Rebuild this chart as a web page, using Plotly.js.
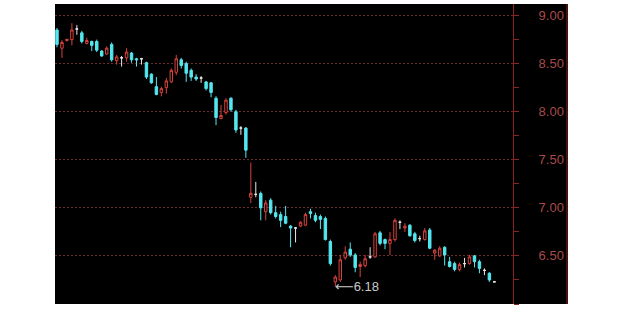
<!DOCTYPE html>
<html>
<head>
<meta charset="utf-8">
<script src="https://cdn.plot.ly/plotly-3.0.1.min.js"></script>
<style>
  html, body { margin: 0; padding: 0; background: #fff; }
  #chart { width: 627px; height: 313px; }
</style>
</head>
<body>
<div id="chart"></div>
<script>
// Daily OHLC prices, one entry per trading session
const openPx  = [8.85,8.66,8.74,8.75,8.86,8.82,8.71,8.73,8.73,8.63,8.60,8.70,8.53,8.56,8.56,8.61,8.55,8.55,8.51,8.39,
                 8.26,8.20,8.25,8.31,8.41,8.54,8.50,8.43,8.36,8.35,8.31,8.30,8.14,7.93,7.99,8.14,8.00,7.83,7.83,7.11,
                 7.14,7.15,6.96,7.08,6.95,6.93,6.91,6.81,6.79,6.81,6.82,6.96,6.92,6.91,6.89,6.65,6.23,6.25,6.48,6.57,
                 6.51,6.39,6.40,6.49,6.49,6.74,6.67,6.63,6.67,6.85,6.79,6.82,6.73,6.68,6.67,6.77,6.53,6.50,6.59,6.44,
                 6.42,6.36,6.42,6.42,6.50,6.44,6.35,6.32,6.23];
const highPx  = [8.87,8.745,8.76,8.92,8.90,8.84,8.77,8.74,8.75,8.64,8.68,8.72,8.59,8.58,8.66,8.62,8.56,8.56,8.52,8.40,
                 8.36,8.26,8.35,8.45,8.59,8.56,8.52,8.45,8.39,8.37,8.32,8.31,8.16,8.07,8.14,8.15,8.02,7.85,7.84,7.47,
                 7.27,7.17,7.08,7.10,7.02,6.96,7.02,6.82,6.80,6.86,6.95,6.99,6.95,6.93,6.91,6.67,6.30,6.51,6.60,6.64,
                 6.53,6.44,6.51,6.59,6.75,6.76,6.68,6.75,6.89,6.87,6.84,6.83,6.75,6.71,6.79,6.79,6.57,6.60,6.60,6.49,
                 6.44,6.43,6.48,6.51,6.51,6.46,6.37,6.33,6.24];
const lowPx   = [8.67,8.56,8.73,8.69,8.80,8.71,8.70,8.63,8.62,8.57,8.59,8.52,8.49,8.47,8.52,8.51,8.47,8.49,8.34,8.29,
                 8.17,8.16,8.19,8.30,8.38,8.45,8.31,8.32,8.32,8.30,8.22,8.15,7.86,7.92,7.97,8.00,7.78,7.76,7.52,7.05,
                 7.11,6.87,6.87,6.93,6.89,6.80,6.83,6.59,6.64,6.80,6.81,6.89,6.85,6.78,6.66,6.40,6.18,6.23,6.46,6.49,
                 6.33,6.28,6.38,6.47,6.48,6.61,6.57,6.51,6.65,6.78,6.75,6.70,6.64,6.65,6.66,6.57,6.46,6.49,6.40,6.38,
                 6.34,6.34,6.38,6.41,6.38,6.32,6.30,6.23,6.23];
const closePx = [8.70,8.72,8.75,8.85,8.86,8.73,8.74,8.69,8.64,8.58,8.66,8.54,8.57,8.56,8.62,8.54,8.54,8.55,8.36,8.30,
                 8.18,8.24,8.32,8.43,8.55,8.48,8.40,8.36,8.34,8.35,8.24,8.20,7.94,7.96,8.12,8.02,7.81,7.83,7.60,7.15,
                 7.14,7.00,7.05,6.95,6.91,6.87,6.84,6.79,6.79,6.85,6.93,6.94,6.87,6.88,6.67,6.42,6.28,6.46,6.54,6.51,
                 6.38,6.41,6.47,6.49,6.73,6.63,6.63,6.67,6.87,6.85,6.81,6.71,6.66,6.68,6.76,6.58,6.56,6.58,6.51,6.39,
                 6.36,6.41,6.42,6.49,6.44,6.37,6.35,6.25,6.23];

// Price scale labels on the right
const priceTicks  = [6.5, 7.0, 7.5, 8.0, 8.5, 9.0];
const priceLabels = ['6.50', '7.00', '7.50', '8.00', '8.50', '9.00'];

// Session low callout
const lowText = '6.18';
const lowValue = 6.18;

const UP = '#d8423c', DOWN = '#55e6ee', FLAT = '#e8e8e8', AXIS = '#8e2222';

const session = openPx.map((_, i) => i);
function pick(test) {
  const idx = session.filter(test);
  return {
    x: idx,
    open: idx.map(i => openPx[i]),
    high: idx.map(i => highPx[i]),
    low: idx.map(i => lowPx[i]),
    close: idx.map(i => closePx[i])
  };
}
function candles(sel, lineColor, fill) {
  return Object.assign({
    type: 'candlestick',
    hoverinfo: 'skip',
    showlegend: false,
    whiskerwidth: 0,
    increasing: { line: { color: lineColor, width: 1 }, fillcolor: fill },
    decreasing: { line: { color: lineColor, width: 1 }, fillcolor: fill }
  }, sel);
}

const lowIdx = lowPx.indexOf(lowValue);

const data = [
  candles(pick(i => closePx[i] > openPx[i]), UP, '#000000'),
  candles(pick(i => closePx[i] < openPx[i]), DOWN, DOWN),
  candles(pick(i => closePx[i] === openPx[i]), FLAT, FLAT)
];

const plotLeft = 55, plotRight = 513, panelRight = 568;
const W = plotRight - plotLeft;

const layout = {
  width: 627, height: 313,
  margin: { l: plotLeft, r: 627 - plotRight, t: 4, b: 9, pad: 0 },
  paper_bgcolor: '#ffffff',
  plot_bgcolor: '#000000',
  showlegend: false,
  xaxis: {
    range: [-0.4, 91.75],
    showgrid: false, zeroline: false, showticklabels: false, ticks: '',
    showline: false, fixedrange: true,
    rangeslider: { visible: false }
  },
  yaxis: {
    side: 'right',
    range: [6.0, 9.12],
    tickvals: priceTicks,
    ticktext: priceLabels,
    showline: true, linecolor: AXIS, linewidth: 1,
    ticks: 'outside', ticklen: 5, tickcolor: AXIS, tickwidth: 1,
    minor: { dtick: 0.25, tick0: 0, ticks: 'outside', ticklen: 5, tickcolor: AXIS, showgrid: false },
    showgrid: true, gridcolor: '#6a2c2c', gridwidth: 1, griddash: '2px,2px',
    zeroline: false,
    ticklabelstandoff: 17,
    tickfont: { family: 'Liberation Sans, Arial, sans-serif', size: 13, color: '#a84a4a' },
    fixedrange: true
  },
  shapes: [
    { type: 'rect', xref: 'paper', yref: 'paper', x0: 1, x1: (panelRight - plotLeft) / W, y0: 0, y1: 1,
      fillcolor: '#000000', line: { width: 0 }, layer: 'below' },
    { type: 'line', xref: 'paper', yref: 'paper', x0: (panelRight - 1 - plotLeft) / W, x1: (panelRight - 1 - plotLeft) / W,
      y0: 0, y1: 1, line: { color: AXIS, width: 1 }, layer: 'above' }
  ],
  annotations: [
    { x: lowIdx - 0.4, y: lowValue, xref: 'x', yref: 'y',
      text: '<span style="font-family:DejaVu Sans">\u27F5</span>' + lowText, showarrow: false,
      xanchor: 'left', yanchor: 'middle',
      font: { family: 'Liberation Sans, Arial, sans-serif', size: 13, color: '#c9c9c9' } }
  ]
};

Plotly.newPlot('chart', data, layout, { displayModeBar: false, staticPlot: true });
</script>
</body>
</html>
